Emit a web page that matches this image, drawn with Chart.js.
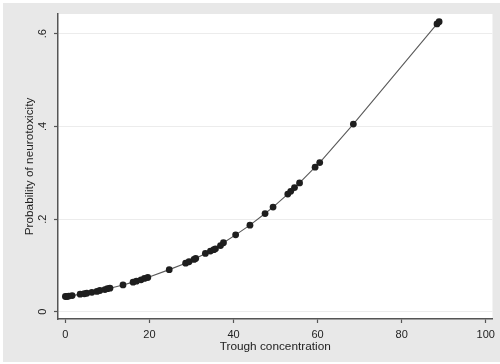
<!DOCTYPE html>
<html>
<head>
<meta charset="utf-8">
<script src="https://cdn.jsdelivr.net/npm/chart.js@4/dist/chart.umd.min.js"></script>
<style>
  html, body { margin: 0; padding: 0; background: #ffffff; }
  canvas { display: block; }
</style>
</head>
<body>
<canvas id="c" width="500" height="364"></canvas>
<script>
// Trough concentration (x) and probability of neurotoxicity (y)
const troughConc = [0, 0.4, 0.8, 1.6, 3.5, 4.5, 5.1, 6.3, 7.5, 8.2, 9.4, 10.0, 10.6, 13.7, 16.1, 16.9, 18.0, 18.8, 19.6,
  24.7, 28.6, 29.4, 30.6, 31.0, 33.3, 34.5, 35.3, 35.7, 36.9, 37.6, 40.5, 43.9, 47.5, 49.4, 52.9, 53.6, 54.5, 55.7,
  59.4, 60.5, 68.5, 88.4, 88.9];
const probNeuro = [0.033, 0.033, 0.034, 0.035, 0.038, 0.039, 0.040, 0.042, 0.044, 0.046, 0.048, 0.050, 0.051, 0.058, 0.064, 0.066, 0.069, 0.072, 0.074,
  0.091, 0.105, 0.108, 0.113, 0.115, 0.126, 0.131, 0.134, 0.136, 0.143, 0.149, 0.166, 0.187, 0.212, 0.226, 0.254, 0.260, 0.268, 0.278,
  0.312, 0.322, 0.405, 0.621, 0.626];
const xTickValues = [0, 20, 40, 60, 80, 100];
const yTickValues = [0, 0.2, 0.4, 0.6];
const yTickLabels = ['0', '.2', '.4', '.6'];
const xTitle = 'Trough concentration';
const yTitle = 'Probability of neurotoxicity';

const points = troughConc.map((x, i) => ({ x: x, y: probNeuro[i] }));

const bgPlugin = {
  id: 'bg',
  beforeDraw(chart) {
    const ctx = chart.ctx, a = chart.chartArea;
    ctx.save();
    ctx.fillStyle = '#ffffff';
    ctx.fillRect(0, 0, chart.width, chart.height);
    ctx.fillStyle = '#e8e8e8';
    ctx.fillRect(3, 3, chart.width - 3, chart.height - 5);
    ctx.fillStyle = '#ffffff';
    ctx.fillRect(a.left, a.top, a.right - a.left, a.bottom - a.top);
    ctx.restore();
  }
};

const family = '"Liberation Sans", Arial, Helvetica, sans-serif';
const tickFont = { family: family, size: 11 };
const titleFont = { family: family, size: 11.8 };

new Chart(document.getElementById('c'), {
  type: 'scatter',
  data: {
    datasets: [
      {
        type: 'scatter',
        data: points,
        pointRadius: 3.4,
        pointHoverRadius: 3.4,
        pointBackgroundColor: '#1e1e1e',
        pointBorderColor: '#1e1e1e',
        pointBorderWidth: 0,
        showLine: false,
        order: 1
      },
      {
        type: 'line',
        data: points,
        borderColor: '#5a5a5a',
        borderWidth: 1.1,
        pointRadius: 0,
        tension: 0,
        fill: false,
        order: 2
      }
    ]
  },
  options: {
    responsive: false,
    devicePixelRatio: 1,
    animation: false,
    events: [],
    layout: { padding: { left: 5, right: 3, top: 14, bottom: 3 } },
    plugins: { legend: { display: false }, tooltip: { enabled: false } },
    scales: {
      x: {
        type: 'linear',
        min: -1.76,
        max: 101.6,
        afterBuildTicks(scale) { scale.ticks = xTickValues.map(v => ({ value: v })); },
        afterFit(scale) { scale.height = 42; },
        grid: { drawOnChartArea: false, drawTicks: true, tickLength: 4, tickColor: '#555555', tickWidth: 1.2 },
        border: { display: true, color: '#555555', width: 1.5 },
        ticks: { font: tickFont, color: '#222222', padding: 5, maxRotation: 0, minRotation: 0,
          callback: (v) => String(v) },
        title: { display: true, text: xTitle, font: titleFont, color: '#222222', padding: { top: 0, bottom: 7 } }
      },
      y: {
        type: 'linear',
        min: -0.0155,
        max: 0.6425,
        afterBuildTicks(scale) { scale.ticks = yTickValues.map(v => ({ value: v })); },
        afterFit(scale) { scale.width = 53; },
        grid: { drawOnChartArea: true, color: '#ececec', lineWidth: 1, drawTicks: true, tickLength: 4, tickColor: '#555555', tickWidth: 1.2 },
        border: { display: true, color: '#555555', width: 1.5 },
        ticks: { font: tickFont, color: '#222222', padding: 6, minRotation: 90, maxRotation: 90, crossAlign: 'center',
          callback: (v) => { const i = yTickValues.indexOf(v); return i >= 0 ? yTickLabels[i] : ''; } },
        title: { display: true, text: yTitle, font: titleFont, color: '#222222', padding: { top: 18, bottom: 0 } }
      }
    }
  },
  plugins: [bgPlugin]
});
</script>
</body>
</html>
